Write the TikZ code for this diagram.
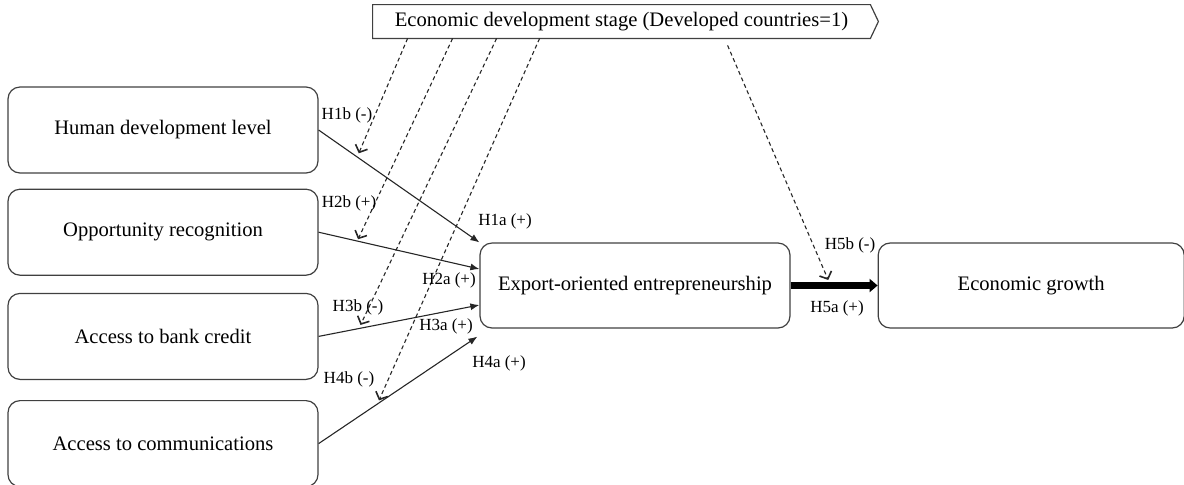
\documentclass[tikz,border=0pt]{standalone}
\usepackage{fontspec}
\setmainfont{Liberation Serif}
\usetikzlibrary{arrows.meta,positioning,calc}

\begin{document}
\begin{tikzpicture}[
  x=1pt,y=1pt,
  node distance=8pt and 43.5pt,
  box/.style={rectangle,rounded corners=6pt,draw=black!75,line width=0.6pt,minimum height=43pt,minimum width=155pt,align=center,font=\fontsize{10.3}{12}\selectfont},
  arr/.style={-{Latex[length=4.5pt,width=3.5pt]},line width=0.55pt,draw=black!85},
  modarr/.style={-{Straight Barb[length=3pt,width=6.5pt,line width=0.8pt]},dash pattern=on 2pt off 1.5pt,line width=0.55pt,draw=black!85},
  note/.style={font=\fontsize{8.5}{10}\selectfont,inner sep=0pt}
]
\useasboundingbox (0,0) rectangle (592,-242);

\node[box] (hdl) at (81.5,-65) {Human development level};
\node[box,below=7.5pt of hdl] (opp) {Opportunity recognition};
\node[box,below=8.5pt of opp] (bank) {Access to bank credit};
\node[box,below=10pt of bank] (comm) {Access to communications};

\node[box,minimum height=42.5pt] (eo) at (317.5,-142.75) {Export-oriented entrepreneurship};
\node[box,minimum height=42.5pt,minimum width=153pt,right=43.5pt of eo] (eg) {Economic growth};

\node[font=\fontsize{10.3}{12}\selectfont,minimum width=248.5pt,minimum height=16.5pt,inner sep=0pt] (stage) at (310.75,-10.75) {Economic development stage (Developed countries=1)};
\draw[draw=black!75,line width=0.6pt] (stage.south west) -- (stage.north west) -- (stage.north east) -- ([xshift=4pt]stage.east) -- (stage.south east) -- cycle;

% direct effects
\coordinate (in2) at ($(eo.west)+(0,8.25)$);
\coordinate (in3) at ($(eo.west)+(0,-9.75)$);
\coordinate (in4) at ($(eo.south west)+(-1,-4)$);
\draw[arr] (hdl.east) -- (eo.north west);
\draw[arr] (opp.east) -- (in2);
\draw[arr] (bank.east) -- (in3);
\draw[arr] (comm.east) -- (in4);
\draw[-{Triangle[length=4pt,width=6.5pt]},line width=3.5pt] (eo.east) -- (eg.west);

% moderation
\coordinate (s1) at ($(stage.south west)+(17.5,0)$);
\coordinate (s2) at ($(stage.south west)+(40,0)$);
\coordinate (s3) at ($(stage.south west)+(62,0)$);
\coordinate (s4) at ($(stage.south west)+(83.5,0)$);
\coordinate (s5) at ($(stage.south west)+(177.5,-3.5)$);
\coordinate (m1) at ($(hdl.east)!0.24!(eo.north west)$);
\coordinate (m2) at ($(opp.east)!0.24!(in2)$);
\coordinate (m3) at ($(bank.east)!0.25!(in3)$);
\coordinate (m4) at ($(comm.east)!0.37!(in4)$);
\coordinate (m5) at ($(eo.east)!0.46!(eg.west)$);
\draw[modarr,shorten >=2pt] (s1) -- (m1);
\draw[modarr,shorten >=1pt] (s2) -- (m2);
\draw[modarr,shorten >=2pt] (s3) -- (m3);
\draw[modarr,shorten >=2pt] (s4) -- (m4);
\draw[modarr,shorten >=3pt] (s5) -- (m5);

\node[note] (h1b) at (173.5,-57.5) {H1b (-)};
\node[note] (h2b) at (174.5,-101.5) {H2b (+)};
\node[note] (h1a) at (252.5,-110.5) {H1a (+)};
\node[note] (h2a) at (224.5,-140) {H2a (+)};
\node[note] (h3b) at (179,-153.5) {H3b (-)};
\node[note] (h3a) at (223,-163) {H3a (+)};
\node[note] (h4a) at (249.5,-181.5) {H4a (+)};
\node[note] (h4b) at (174.5,-189.5) {H4b (-)};
\node[note] (h5b) at (425,-122.5) {H5b (-)};
\node[note] (h5a) at (418.5,-154) {H5a (+)};
\end{tikzpicture}
\end{document}
